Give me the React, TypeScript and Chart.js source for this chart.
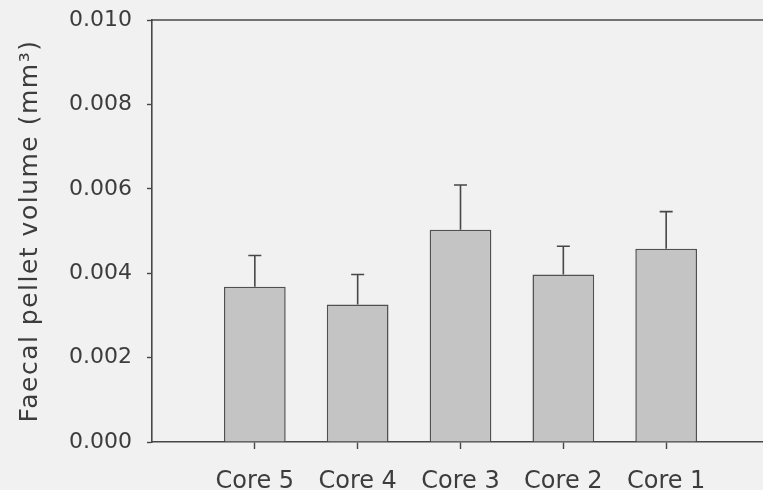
import React, { useEffect, useRef } from "react";
import { Chart, registerables } from "chart.js";

Chart.register(...registerables);

const categories = ["", "Core 5", "Core 4", "Core 3", "Core 2", "Core 1", ""];
const meanVolume = [null, 0.00368, 0.00326, 0.00503, 0.00397, 0.00458, null];
const errorUpper = [null, 0.00074, 0.00071, 0.00106, 0.00067, 0.00088, null];
const yTicks = [0, 0.002, 0.004, 0.006, 0.008, 0.01];

const INK = "#474747";
const TEXT = "#3c3c3c";
const FONT = "'DejaVu Sans', Arial, sans-serif";

const errorBarPlugin = {
  id: "errorBars",
  afterDatasetsDraw(chart: any) {
    const ctx = chart.ctx;
    const meta = chart.getDatasetMeta(0);
    const y = chart.scales.y;
    ctx.save();
    ctx.strokeStyle = INK;
    ctx.lineWidth = 1.6;
    meta.data.forEach((bar: any, i: number) => {
      const v = meanVolume[i];
      const e = errorUpper[i];
      if (v == null || e == null) return;
      const top = y.getPixelForValue(v + e);
      const base = y.getPixelForValue(v);
      ctx.beginPath();
      ctx.moveTo(bar.x, base);
      ctx.lineTo(bar.x, top);
      ctx.moveTo(bar.x - 6.5, top);
      ctx.lineTo(bar.x + 6.5, top);
      ctx.stroke();
    });
    const a = chart.chartArea;
    ctx.beginPath();
    ctx.lineWidth = 1.6;
    ctx.moveTo(a.left, a.top);
    ctx.lineTo(a.right + 20, a.top);
    ctx.stroke();
    ctx.restore();
  },
};

const bgPlugin = {
  id: "bg",
  beforeDraw(chart: any) {
    const ctx = chart.ctx;
    ctx.save();
    ctx.fillStyle = "#f1f1f1";
    ctx.fillRect(0, 0, chart.width, chart.height);
    ctx.restore();
    (ctx as any).letterSpacing = "1.5px";
  },
  beforeDatasetsDraw(chart: any) {
    (chart.ctx as any).letterSpacing = "0px";
  },
};

export default function App() {
  const ref = useRef<HTMLCanvasElement | null>(null);
  useEffect(() => {
    if (!ref.current) return;
    const chart = new Chart(ref.current, {
      type: "bar",
      data: {
        labels: categories,
        datasets: [
          {
            data: meanVolume as any,
            backgroundColor: "#c4c4c4",
            borderColor: "#505050",
            borderWidth: 1.5,
            borderSkipped: "bottom",
            barPercentage: 0.6,
            categoryPercentage: 1,
          },
        ],
      },
      options: {
        animation: false,
        responsive: false,
        maintainAspectRatio: false,
        layout: { padding: { top: 20, right: 11, left: 0, bottom: 0 } },
        plugins: { legend: { display: false }, tooltip: { enabled: false } },
        scales: {
          x: {
            offset: false,
            grid: {
              offset: false,
              drawOnChartArea: false,
              tickLength: 7,
              tickWidth: 1.4,
              tickColor: (c: any) => (c.index === 0 || c.index === 6 ? "rgba(0,0,0,0)" : INK),
            },
            border: { display: true, color: INK, width: 1.6 },
            ticks: {
              z: 1,
              color: TEXT,
              font: { family: FONT, size: 24 },
              padding: 18,
              maxRotation: 0,
              autoSkip: false,
            },
            afterFit: (s: any) => {
              s.height = 48;
              s.paddingLeft = 0;
              s.paddingRight = 0;
            },
          },
          y: {
            min: 0,
            max: 0.01,
            afterBuildTicks: (s: any) => {
              s.ticks = yTicks.map((v) => ({ value: v }));
            },
            grid: {
              drawOnChartArea: false,
              tickLength: 5,
              tickWidth: 1.4,
              tickColor: INK,
            },
            border: { display: true, color: INK, width: 1.6 },
            ticks: {
              z: 1,
              color: TEXT,
              font: { family: FONT, size: 22 },
              padding: 15,
              callback: (v: any) => Number(v).toFixed(3),
            },
            title: {
              display: true,
              text: "Faecal pellet volume (mm³)",
              color: TEXT,
              font: { family: FONT, size: 25 },
              padding: { top: 15, bottom: 0 },
            },
            afterFit: (s: any) => {
              s.width = 152;
              s.paddingTop = 0;
              s.paddingBottom = 0;
            },
          },
        },
      },
      plugins: [bgPlugin, errorBarPlugin],
    });
    return () => chart.destroy();
  }, []);
  return (
    <div style={{ position: "fixed", left: 0, top: 0, width: 763, height: 490, overflow: "hidden", background: "#f1f1f1" }}>
      <canvas ref={ref} width={780} height={490} style={{ display: "block", width: 780, height: 490 }} />
    </div>
  );
}
